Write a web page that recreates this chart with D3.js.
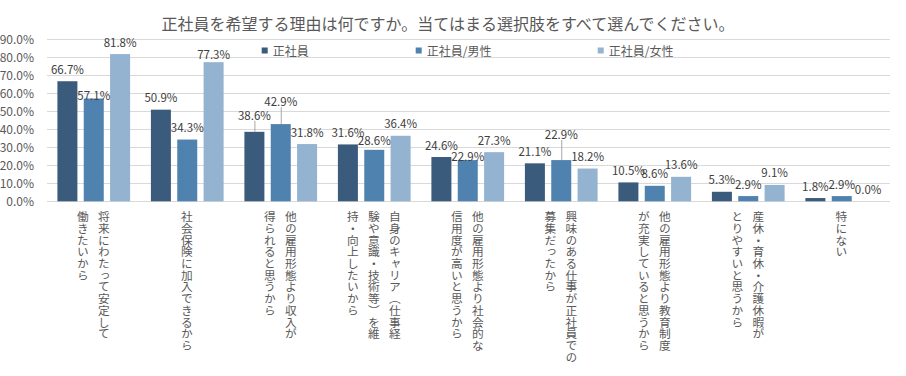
<!DOCTYPE html>
<html><head><meta charset="utf-8">
<script src="https://cdn.jsdelivr.net/npm/d3@7"></script>
<style>
html,body{margin:0;padding:0;background:#fff;}
svg{display:block;font-family:"Noto Sans CJK JP","Noto Sans",sans-serif;}
</style></head>
<body>
<svg id="chart" width="906" height="376"></svg>
<script>
const title = "正社員を希望する理由は何ですか。当てはまる選択肢をすべて選んでください。";
const categories = [
  ["将来にわたって安定して","働きたいから"],
  ["社会保険に加入できるから"],
  ["他の雇用形態より収入が","得られると思うから"],
  ["自身のキャリア（仕事経","験や意識・技術等）を維","持・向上したいから"],
  ["他の雇用形態より社会的な","信用度が高いと思うから"],
  ["興味のある仕事が正社員での","募集だったから"],
  ["他の雇用形態より教育制度","が充実していると思うから"],
  ["産休・育休・介護休暇が","とりやすいと思うから"],
  ["特にない"]
];
const seriesNames = ["正社員","正社員/男性","正社員/女性"];
const seriesAll    = [66.7, 50.9, 38.6, 31.6, 24.6, 21.1, 10.5, 5.3, 1.8];
const seriesMale   = [57.1, 34.3, 42.9, 28.6, 22.9, 22.9, 8.6, 2.9, 2.9];
const seriesFemale = [81.8, 77.3, 31.8, 36.4, 27.3, 18.2, 13.6, 9.1, 0.0];
const yTicks = [0, 10, 20, 30, 40, 50, 60, 70, 80, 90];

// layout / style (not data)
const colors = ["#3a5b7c", "#4f82af", "#93b3d1"];
// label lift above bar top (px) for labels that are moved; key "series,category"
const labelLift = {"0,2": 17, "1,0": 3.5, "1,1": 12.3, "1,2": 23, "1,3": 10, "1,4": 4.4, "1,5": 26, "2,1": 8};
const leaderLines = {"0,2": true, "1,2": true, "1,5": true};

const svg = d3.select("#chart");
const seriesValues = [seriesAll, seriesMale, seriesFemale];

const plotL = 47, plotR = 888.5;
const x0 = d3.scaleBand().domain(d3.range(categories.length)).range([plotL, plotR]).padding(0);
const groupW = 72.7;
const x1 = d3.scaleBand().domain(d3.range(3)).range([0, groupW]).paddingInner(0.241).paddingOuter(0);
const y = d3.scaleLinear().domain([0, 90]).range([201.3, 39.3]);

// title
svg.append("text").attr("x", 448).attr("y", 23).attr("text-anchor", "middle")
  .attr("dominant-baseline", "central")
  .attr("font-size", "16px").attr("fill", "#595959").text(title);

// gridlines
svg.append("g").selectAll("line").data(yTicks).join("line")
  .attr("x1", plotL).attr("x2", plotR + 1.5)
  .attr("y1", d => Math.round(y(d)) + 0.5).attr("y2", d => Math.round(y(d)) + 0.5)
  .attr("stroke", "#d9d9d9").attr("stroke-width", 1);

// y axis labels
const yAxis = d3.axisLeft(y).tickValues(yTicks).tickSize(0).tickPadding(0)
  .tickFormat(d => d.toFixed(1) + "%");
const yg = svg.append("g").attr("transform", "translate(34,0)").call(yAxis);
yg.select(".domain").remove();
yg.selectAll("text").attr("font-size", "12px").attr("fill", "#595959")
  .attr("font-family", "'Noto Sans CJK JP','Noto Sans',sans-serif");

// legend
const legendX = [261.7, 415.7, 597.7];
const lg = svg.append("g");
seriesNames.forEach((n, i) => {
  lg.append("rect").attr("x", legendX[i]).attr("y", 47.5).attr("width", 6).attr("height", 6).attr("fill", colors[i]);
  lg.append("text").attr("x", legendX[i] + 11).attr("y", 50.7).attr("dominant-baseline", "central")
    .attr("font-size", "12px").attr("fill", "#595959").text(n);
});

// bars
const groups = svg.append("g").selectAll("g").data(categories.map((c, ci) => ci)).join("g")
  .attr("transform", ci => `translate(${x0(ci) + (x0.bandwidth() - groupW) / 2},0)`);
groups.selectAll("rect").data(ci => seriesValues.map((s, si) => ({si, ci, v: s[ci]}))).join("rect")
  .attr("x", d => x1(d.si)).attr("width", x1.bandwidth())
  .attr("y", d => y(d.v)).attr("height", d => y(0) - y(d.v))
  .attr("fill", d => colors[d.si]);

// leader lines + data labels
const labelData = [];
categories.forEach((c, ci) => seriesValues.forEach((s, si) => labelData.push({si, ci, v: s[ci]})));
const lab = svg.append("g");
labelData.forEach(d => {
  const key = d.si + "," + d.ci;
  const cx = x0(d.ci) + (x0.bandwidth() - groupW) / 2 + x1(d.si) + x1.bandwidth() / 2;
  const lift = labelLift[key] !== undefined ? labelLift[key] : 12.5;
  const cy = y(d.v) - lift;
  if (leaderLines[key]) {
    lab.append("line").attr("x1", cx + 0.5).attr("x2", cx + 0.5).attr("y1", cy + 6).attr("y2", y(d.v))
      .attr("stroke", "#a6a6a6").attr("stroke-width", 1);
  }
  lab.append("text").attr("x", cx).attr("y", cy).attr("text-anchor", "middle").attr("dominant-baseline", "central")
    .attr("font-size", "11.5px").attr("fill", "#404040").text(d.v.toFixed(1) + "%");
});

// category labels (vertical, columns right-to-left)
const colGap = 21;
const cg = svg.append("g");
categories.forEach((lines, ci) => {
  const center = x0(ci) + x0.bandwidth() / 2 - 0.5;
  const n = lines.length;
  lines.forEach((t, li) => {
    const cx = center + ((n - 1) / 2 - li) * colGap;
    cg.append("text").attr("x", cx).attr("y", 211)
      .style("writing-mode", "vertical-rl")
      .attr("font-size", "11.7px").attr("fill", "#595959").text(t);
  });
});
</script>
</body></html>
